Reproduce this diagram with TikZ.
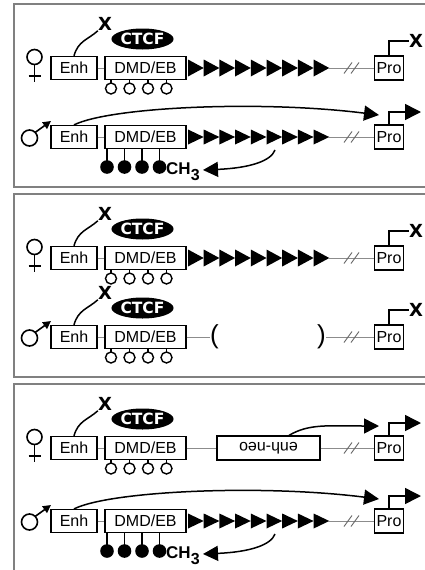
\documentclass[tikz,border=0pt]{standalone}
\usepackage{fontspec}
\setmainfont{Liberation Sans}
\newfontfamily\heavyfont{DejaVu Sans}
\usetikzlibrary{arrows.meta,shapes.geometric}
\tikzset{
 bx/.style={draw,line width=1.2pt,inner sep=0pt,minimum height=23pt,font=\fontsize{16}{16}\selectfont},
 enhbox/.style={bx,minimum width=46pt},
 dmdbox/.style={bx,minimum width=81pt},
 probox/.style={bx,minimum width=29pt,minimum height=24pt},
 neobox/.style={bx,minimum width=103pt,minimum height=24pt},
 ctcf/.style={ellipse,fill=black,text=white,inner sep=0pt,minimum width=61pt,minimum height=21pt,font=\heavyfont\bfseries\fontsize{15.5}{15.5}\selectfont},
 xmk/.style={inner sep=0pt,font=\heavyfont\bfseries\fontsize{18}{18}\selectfont},
 gline/.style={draw=black!45,line width=0.9pt},
 crv/.style={line width=1.5pt},
 bigtip/.style={-{Triangle[length=15pt,width=15pt]}},
 paneltop/.style={draw=black!50,line width=1.2pt},
 sym/.style={line width=1.6pt},
 parn/.style={inner sep=0pt,font=\fontsize{26}{26}\selectfont},
}
\newcommand\femsym[1]{%
 \draw[sym] (34.5,#1-11) circle (7.5pt);
 \draw[sym] (34.5,#1-3.5) -- (34.5,#1+14);
 \draw[sym] (28.5,#1+8) -- (40.5,#1+8);}
\newcommand\malesym[1]{%
 \draw[sym] (29.5,#1+1) circle (8pt);
 \draw[sym,-{Triangle[length=8pt,width=8pt]}] (35.2,#1-4.6) -- (51,#1-16);}
\newcommand\rowbase[2]{%
 \node[enhbox] (#1enh) at (74,#2) {Enh};
 \node[dmdbox] (#1dmd) at (145.5,#2) {DMD/EB};
 \draw[gline] (#1enh) -- (#1dmd);}
\newcommand\blocked[2]{%
 \node[ctcf] (#1ctcf) at (142.5,#2-29) {CTCF};
 \node[xmk] (#1x) at (105,#2-44) {X};
 \draw[crv] (#1enh.north) .. controls +(4,-15) and +(-10,9) .. (#1x.south west);}
\newcommand\openlol[1]{%
 \foreach \cx in {111,129.5,148,166.5}{
   \draw[line width=1.1pt] (\cx,#1+11) -- (\cx,#1+15);
   \draw[line width=1.4pt] (\cx,#1+20.5) circle (5.5pt);}}
\newcommand\filledlol[2]{%
 \foreach \cx in {107,124.5,142,159.5}{
   \draw[line width=1.1pt] (\cx,#2+11) -- (\cx,#2+24);
   \fill (\cx,#2+30) circle (6.8pt);}
 \node[anchor=base west,inner sep=0pt,font=\bfseries\fontsize{17}{17}\selectfont] (#1ch) at (166,#2+37) {CH\raisebox{-6pt}{\fontsize{16}{16}\selectfont 3}};}
\newcommand\tris[2]{%
 \foreach \i in {0,...,8}{
   \fill ({188+15.7*\i},#1-#2) -- ({188+15.7*(\i+1)},#1) -- ({188+15.7*\i},#1+#2) -- cycle;}}
\newcommand\tail[3]{%
 \node[probox] (#1pro) at (389,#2) {Pro};
 \draw[gline] (#3) -- (#1pro);
 \draw[line width=0.9pt,black!60] (344,#2+5.5) -- (352,#2-5.5) (351,#2+5.5) -- (359,#2-5.5);}
\newcommand\proX[2]{%
 \node[xmk] (#1px) at (416,#2-27) {X};
 \draw[line width=1.4pt] (#1pro.north) |- (#1px.west);}
\newcommand\proOn[2]{%
 \coordinate (#1pt) at (421,#2-25);
 \draw[crv,-{Triangle[length=16pt,width=16pt]}] (#1pro.north) |- (#1pt);}
\newcommand\activecurve[2]{%
 \coordinate (#1mt) at (379,#2-22);
 \draw[crv,bigtip] (#1enh.north) .. controls (110,#2-30) and (260,#2-37) .. (#1mt);}
\newcommand\methret[2]{%
 \coordinate (#1rs) at (275,#2+13);
 \coordinate (#1rt) at (203,#2+33);
 \draw[crv,bigtip] (#1rs) .. controls (271,#2+24) and (250,#2+31) .. (#1rt);}
\begin{document}
\begin{tikzpicture}[x=1pt,y=-1pt]
\useasboundingbox[fill=white] (0,0) rectangle (424,570);
\draw[paneltop] (14,4) rectangle (440,187);
\draw[paneltop] (14,194) rectangle (440,377);
\draw[paneltop] (14,384) rectangle (440,600);
% ---------- panel 1 ----------
\femsym{68}
\rowbase{af}{68}
\blocked{af}{68}
\openlol{68}
\tris{68}{8.5}
\coordinate (afte) at (329.3,68);
\tail{af}{68}{afte}
\proX{af}{68}
\malesym{137}
\rowbase{am}{137}
\filledlol{am}{137}
\tris{137}{7.5}
\coordinate (amte) at (329.3,137);
\tail{am}{137}{amte}
\proOn{am}{137}
\activecurve{am}{137}
\methret{am}{137}
% ---------- panel 2 ----------
\femsym{258}
\rowbase{bf}{258}
\blocked{bf}{258}
\openlol{258}
\tris{258}{8.5}
\coordinate (bfte) at (329.3,258);
\tail{bf}{258}{bfte}
\proX{bf}{258}
\malesym{337}
\rowbase{bm}{337}
\blocked{bm}{337}
\openlol{337}
\node[parn] (bmlp) at (214.5,337) {(};
\node[parn] (bmrp) at (321.5,337) {)};
\draw[gline] (bmdmd) -- (bmlp);
\tail{bm}{337}{bmrp}
\proX{bm}{337}
% ---------- panel 3 ----------
\femsym{448}
\rowbase{cf}{448}
\blocked{cf}{448}
\openlol{448}
\node[neobox] (cfneo) at (268.5,448) {\rotatebox{180}{enh-neo}};
\draw[gline] (cfdmd) -- (cfneo);
\tail{cf}{448}{cfneo}
\proOn{cf}{448}
\coordinate (cfnt) at (379,426);
\draw[crv,bigtip] ([xshift=20.5pt]cfneo.north) .. controls +(20,-12) and +(-50,0) .. (cfnt);
\malesym{521}
\rowbase{cm}{521}
\filledlol{cm}{521}
\tris{521}{7.5}
\coordinate (cmte) at (329.3,521);
\tail{cm}{521}{cmte}
\proOn{cm}{521}
\activecurve{cm}{521}
\methret{cm}{521}
\end{tikzpicture}
\end{document}
